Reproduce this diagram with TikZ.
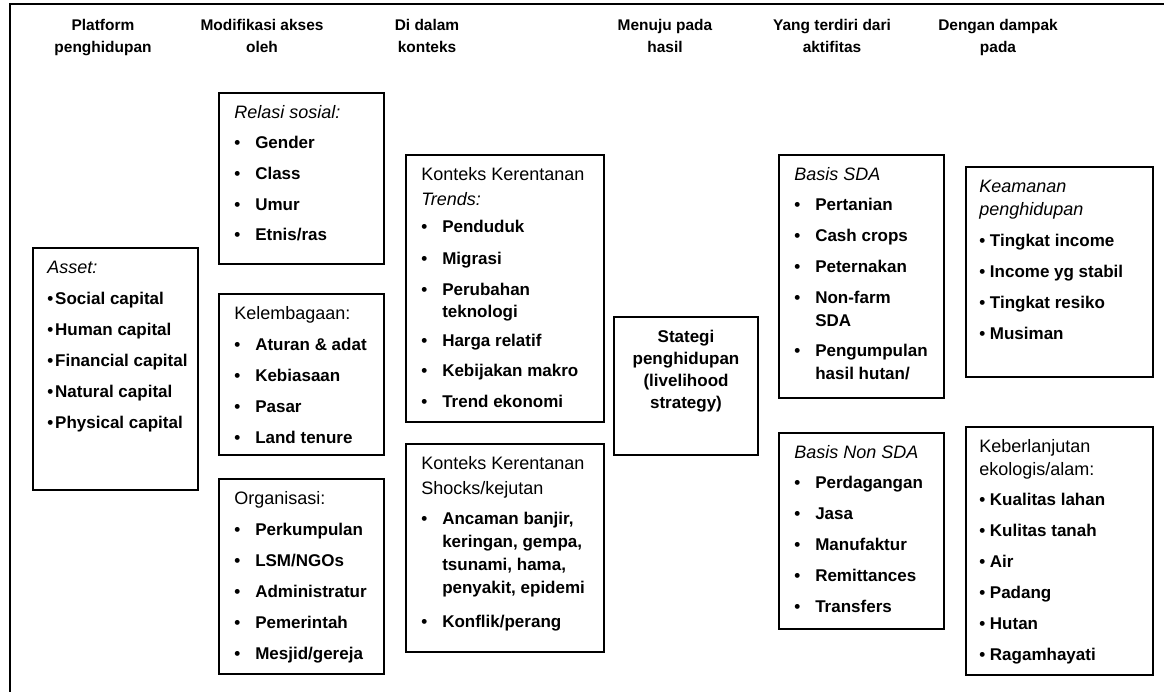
\documentclass[tikz,border=0pt]{standalone}
\usepackage{fontspec}
\setmainfont{Liberation Sans}
\usetikzlibrary{positioning, fit}

\newcommand{\itemfont}{\fontsize{12.75}{17.25}\selectfont\bfseries}
\newcommand{\titlefont}{\fontsize{13.5}{17.25}\selectfont\mdseries}
\newcommand{\headfont}{\fontsize{11.6}{16.5}\selectfont\bfseries}
\newcommand{\litem}[1]{\makebox[15.75pt][l]{\textbullet}#1}
\newcommand{\litemwrap}[1]{\hspace*{15.75pt}#1}
\newcommand{\tightitem}[1]{\textbullet\hspace{1.5pt}#1}
\newcommand{\spaceitem}[1]{\textbullet\ #1}

\tikzset{
  panel/.style={draw, line width=1.5pt, inner sep=0pt},
  listtext/.style={anchor=base west, inner sep=0pt, font=\itemfont},
  colhead/.style={anchor=base, inner sep=0pt, font=\headfont}
}

\begin{document}
\begin{tikzpicture}[x=0.75pt, y=-0.75pt]
  \useasboundingbox (0,0) rectangle (1164,692);
  % outer frame
  \draw[line width=1.8pt] (10,692) -- (10,4) -- (1164,4);

  % column headings
  \node[colhead] (h1) at (103,30.5) {\begin{tabular}[t]{@{}c@{}}Platform\\penghidupan\end{tabular}};
  \node[colhead] (h2) at (262,30.5) {\begin{tabular}[t]{@{}c@{}}Modifikasi akses\\oleh\end{tabular}};
  \node[colhead] (h3) at (427,30.5) {\begin{tabular}[t]{@{}c@{}}Di dalam\\konteks\end{tabular}};
  \node[colhead] (h4) at (665,30.5) {\begin{tabular}[t]{@{}c@{}}Menuju pada\\hasil\end{tabular}};
  \node[colhead] (h5) at (832,30.5) {\begin{tabular}[t]{@{}c@{}}Yang terdiri dari\\aktifitas\end{tabular}};
  \node[colhead] (h6) at (998,30.5) {\begin{tabular}[t]{@{}c@{}}Dengan dampak\\pada\end{tabular}};

  % boxes
  \node[panel, fit={(33,248) (198,490)}] (asset) {};
  \node[panel, fit={(219,93) (384,264)}] (relasi) {};
  \node[panel, fit={(219,294) (384,455)}] (lembaga) {};
  \node[panel, fit={(219,479) (384,674)}] (organisasi) {};
  \node[panel, fit={(406,155) (604,422)}] (trends) {};
  \node[panel, fit={(406,444) (604,652)}] (shocks) {};
  \node[panel, fit={(614,317) (758,455)}] (strategi) {};
  \node[panel, fit={(779,155) (944,398)}] (sda) {};
  \node[panel, fit={(779,433) (944,629)}] (nonsda) {};
  \node[panel, fit={(966,167) (1153,377)}] (keamanan) {};
  \node[panel, fit={(966,427) (1153,675)}] (lanjut) {};

  % box texts
  \node[listtext] (assettxt) at ([shift={(15,26)}]asset.north west) {\begin{tabular}[t]{@{}l@{}}
    {\titlefont\itshape Asset:}\\[6pt]
    \tightitem{Social capital}\\[6pt]
    \tightitem{Human capital}\\[6pt]
    \tightitem{Financial capital}\\[6pt]
    \tightitem{Natural capital}\\[6pt]
    \tightitem{Physical capital}
  \end{tabular}};

  \node[listtext] (relasitxt) at ([shift={(16,26)}]relasi.north west) {\begin{tabular}[t]{@{}l@{}}
    {\titlefont\itshape Relasi sosial:}\\[5.25pt]
    \litem{Gender}\\[6pt]
    \litem{Class}\\[6pt]
    \litem{Umur}\\[6pt]
    \litem{Etnis/ras}
  \end{tabular}};

  \node[listtext] (lembagatxt) at ([shift={(16,26)}]lembaga.north west) {\begin{tabular}[t]{@{}l@{}}
    {\titlefont Kelembagaan:}\\[6pt]
    \litem{Aturan \& adat}\\[6pt]
    \litem{Kebiasaan}\\[6pt]
    \litem{Pasar}\\[6pt]
    \litem{Land tenure}
  \end{tabular}};

  \node[listtext] (organisasitxt) at ([shift={(16,26)}]organisasi.north west) {\begin{tabular}[t]{@{}l@{}}
    {\titlefont Organisasi:}\\[6pt]
    \litem{Perkumpulan}\\[6pt]
    \litem{LSM/NGOs}\\[6pt]
    \litem{Administratur}\\[6pt]
    \litem{Pemerintah}\\[6pt]
    \litem{Mesjid/gereja}
  \end{tabular}};

  \node[listtext] (trendstxt) at ([shift={(16,26)}]trends.north west) {\begin{tabular}[t]{@{}l@{}}
    {\titlefont Konteks Kerentanan}\\[1.5pt]
    {\titlefont\itshape Trends:}\\[3.75pt]
    \litem{Penduduk}\\[6pt]
    \litem{Migrasi}\\[6pt]
    \litem{Perubahan}\\
    \litemwrap{teknologi}\\[3.75pt]
    \litem{Harga relatif}\\[6pt]
    \litem{Kebijakan makro}\\[6pt]
    \litem{Trend ekonomi}
  \end{tabular}};

  \node[listtext] (shockstxt) at ([shift={(16,26)}]shocks.north west) {\begin{tabular}[t]{@{}l@{}}
    {\titlefont Konteks Kerentanan}\\[1.5pt]
    {\titlefont Shocks/kejutan}\\[5.25pt]
    \litem{Ancaman banjir,}\\
    \litemwrap{keringan, gempa,}\\
    \litemwrap{tsunami, hama,}\\
    \litemwrap{penyakit, epidemi}\\[8.25pt]
    \litem{Konflik/perang}
  \end{tabular}};

  \node[anchor=base, inner sep=0pt, font=\fontsize{12.75}{16.5}\selectfont\bfseries] (strategitxt)
    at ([shift={(0,26)}]strategi.north) {\begin{tabular}[t]{@{}c@{}}Stategi\\penghidupan\\(livelihood\\strategy)\end{tabular}};

  \node[listtext] (sdatxt) at ([shift={(16,26)}]sda.north west) {\begin{tabular}[t]{@{}l@{}}
    {\titlefont\itshape Basis SDA}\\[6pt]
    \litem{Pertanian}\\[6pt]
    \litem{Cash crops}\\[6pt]
    \litem{Peternakan}\\[6pt]
    \litem{Non-farm}\\
    \litemwrap{SDA}\\[5.25pt]
    \litem{Pengumpulan}\\
    \litemwrap{hasil hutan/}
  \end{tabular}};

  \node[listtext] (nonsdatxt) at ([shift={(16,26)}]nonsda.north west) {\begin{tabular}[t]{@{}l@{}}
    {\titlefont\itshape Basis Non SDA}\\[5.25pt]
    \litem{Perdagangan}\\[6pt]
    \litem{Jasa}\\[6pt]
    \litem{Manufaktur}\\[6pt]
    \litem{Remittances}\\[6pt]
    \litem{Transfers}
  \end{tabular}};

  \node[listtext] (keamanantxt) at ([shift={(14,26)}]keamanan.north west) {\begin{tabular}[t]{@{}l@{}}
    {\titlefont\itshape Keamanan}\\
    {\titlefont\itshape penghidupan}\\[6pt]
    \spaceitem{Tingkat income}\\[6pt]
    \spaceitem{Income yg stabil}\\[6pt]
    \spaceitem{Tingkat resiko}\\[6pt]
    \spaceitem{Musiman}
  \end{tabular}};

  \node[listtext] (lanjuttxt) at ([shift={(14,26)}]lanjut.north west) {\begin{tabular}[t]{@{}l@{}}
    {\titlefont Keberlanjutan}\\
    {\titlefont ekologis/alam:}\\[5.25pt]
    \spaceitem{Kualitas lahan}\\[6pt]
    \spaceitem{Kulitas tanah}\\[6pt]
    \spaceitem{Air}\\[6pt]
    \spaceitem{Padang}\\[6pt]
    \spaceitem{Hutan}\\[6pt]
    \spaceitem{Ragamhayati}
  \end{tabular}};
\end{tikzpicture}
\end{document}
